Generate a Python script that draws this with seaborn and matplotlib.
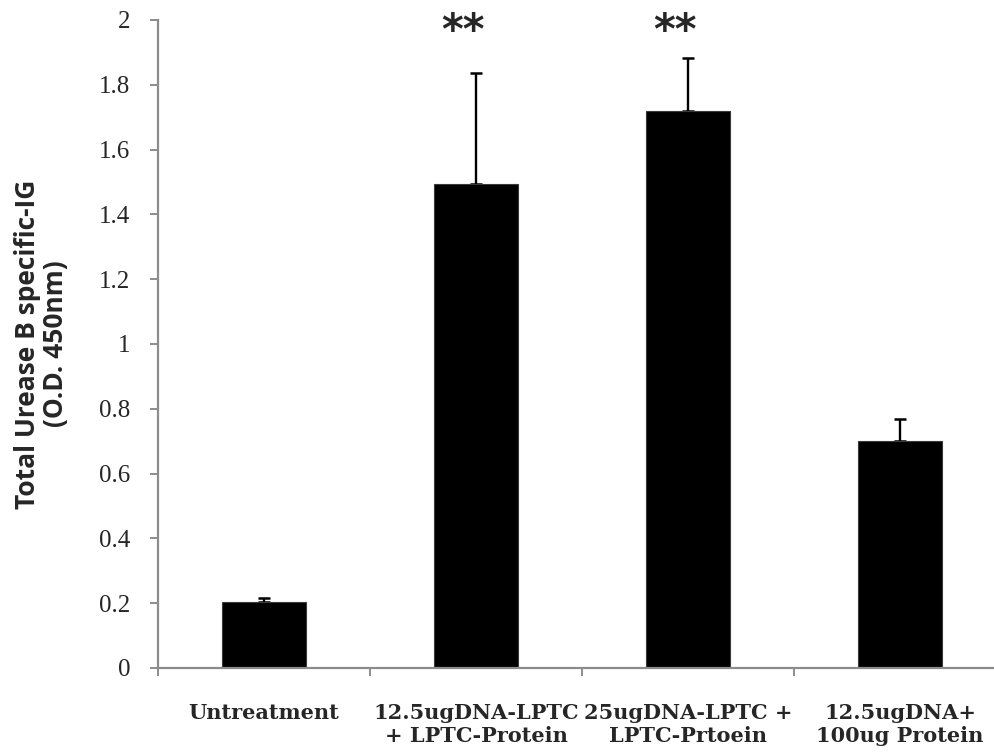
import numpy as np
import pandas as pd
import matplotlib
matplotlib.use("Agg")
import matplotlib.pyplot as plt
import seaborn as sns
from matplotlib.ticker import FixedLocator, FuncFormatter

sns.set_style("white")

# D A T A
groups = ["Untreatment",
          "12.5ugDNA-LPTC\n+ LPTC-Protein",
          "25ugDNA-LPTC +\nLPTC-Prtoein",
          "12.5ugDNA+\n100ug Protein"]
od450 = [0.205, 1.495, 1.72, 0.70]
err_up = [0.012, 0.34, 0.162, 0.07]
signif = ["", "**", "**", ""]

df = pd.DataFrame({"group": groups, "od": od450})

axis_grey = "#8c8c8c"

fig = plt.figure(figsize=(9.95, 7.55), dpi=100)
ax = fig.add_axes([158/995, 1 - 668/755, 848/995, 648/755])

sns.barplot(data=df, x="group", y="od", color="black", width=0.4,
            edgecolor="#3a3a3a", linewidth=0.8, errorbar=None, ax=ax)

x = np.arange(len(groups))
# upper-only error bars, tucked behind the bars
ax.errorbar(x, od450, yerr=[np.zeros(len(groups)), err_up], fmt="none",
            ecolor="black", elinewidth=1.7, capsize=4.3, capthick=1.8, zorder=0.5)

for xi, s in zip(x, signif):
    if s:
        ax.text(xi - 0.06, 1.962, s, ha="center", va="center",
                fontsize=30, fontweight="bold", family="DejaVu Sans")

ax.set_xlim(-0.5, 3.5)
ax.set_ylim(0, 2)
ax.set_yticks(np.arange(0, 2.01, 0.2))
ax.yaxis.set_major_formatter(FuncFormatter(lambda v, p: f"{v:g}"))
ax.tick_params(axis="y", direction="out", length=5.8, width=1.4,
               color=axis_grey, pad=14, left=True, labelsize=18,
               labelfontfamily="Liberation Serif")

# category labels at centres, ticks between categories
ax.set_xticks(x)
ax.set_xticklabels(groups, family="DejaVu Serif", fontweight="bold",
                   fontsize=15, linespacing=1.2)
ax.tick_params(axis="x", which="major", length=0, pad=25)
ax.xaxis.set_minor_locator(FixedLocator(np.arange(-0.5, 3.6, 1.0)))
ax.tick_params(axis="x", which="minor", direction="out", length=5.8,
               width=1.4, color=axis_grey, bottom=True)

ax.set_xlabel("")
ax.set_ylabel("Total Urease B specific-IG\n(O.D. 450nm)", family="Open Sans",
              fontweight="bold", fontsize=19, labelpad=22, linespacing=1.05)

sns.despine(ax=ax)
for sp in ["left", "bottom"]:
    ax.spines[sp].set_color(axis_grey)
    ax.spines[sp].set_linewidth(1.6)

fig.savefig("out.png", dpi=100)
